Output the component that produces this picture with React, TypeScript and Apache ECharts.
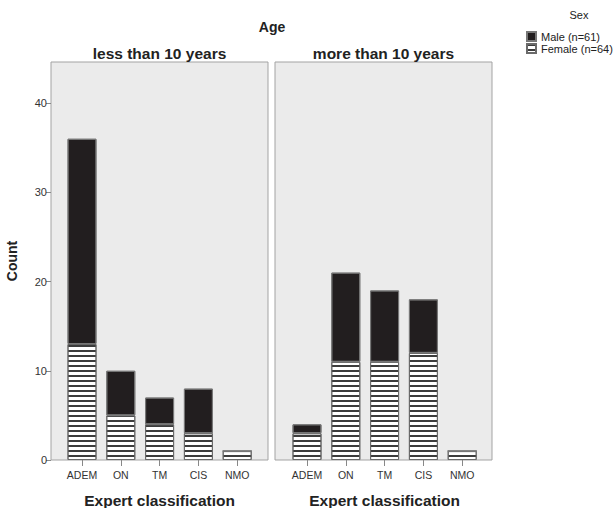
import React, { useEffect, useRef } from "react";
import * as echarts from "echarts";

const categories = ["ADEM", "ON", "TM", "CIS", "NMO"];
const panels = ["less than 10 years", "more than 10 years"];
const maleLess = [23, 5, 3, 5, 0];
const femaleLess = [13, 5, 4, 3, 1];
const maleMore = [1, 10, 8, 6, 0];
const femaleMore = [3, 11, 11, 12, 1];
const yTicks = [0, 10, 20, 30, 40];
const maleName = "Male (n=61)";
const femaleName = "Female (n=64)";

const FONT = "Liberation Sans, Arial, sans-serif";

export default function App() {
  const ref = useRef<HTMLDivElement>(null);
  useEffect(() => {
    if (!ref.current) return;
    const chart = echarts.init(ref.current, null, { renderer: "svg" });
    const yMax = 44.6;
    const panelTop = 62;
    const panelH = 398;
    const bgLefts = [51, 275];
    const panelW = 217;
    const dataLefts = [62.6, 287.6];
    const dataW = 194;

    const grids: any[] = [];
    const xAxes: any[] = [];
    const yAxes: any[] = [];
    bgLefts.forEach((l) => {
      grids.push({
        left: l, top: panelTop, width: panelW, height: panelH,
        outerBoundsMode: "none", containLabel: false,
        show: true, backgroundColor: "#ebebeb", borderColor: "#a3a3a3", borderWidth: 1,
      });
    });
    dataLefts.forEach((l) => {
      grids.push({ left: l, top: panelTop, width: dataW, height: panelH, outerBoundsMode: "none", containLabel: false });
    });
    [0, 1].forEach((i) => {
      xAxes.push({ gridIndex: i, type: "value", show: false, min: 0, max: 1 });
      yAxes.push({
        gridIndex: i, type: "value", min: 0, max: yMax,
        show: i === 0,
        name: i === 0 ? "Count" : "",
        nameLocation: "middle", nameGap: 32,
        nameTextStyle: { fontFamily: FONT, fontWeight: "bold", fontSize: 14, color: "#222" },
        axisLine: { show: false },
        axisTick: { show: true, length: 5, lineStyle: { color: "#888" }, customValues: yTicks },
        axisLabel: { customValues: yTicks, fontFamily: FONT, fontSize: 11, color: "#333", margin: 4 },
        splitLine: { show: false },
      });
    });
    [2, 3].forEach((i) => {
      xAxes.push({
        gridIndex: i, type: "category", data: categories,
        name: "Expert classification", nameLocation: "middle", nameGap: 32,
        nameTextStyle: { fontFamily: FONT, fontWeight: "bold", fontSize: 15.5, color: "#222" },
        axisLine: { show: false },
        axisTick: { show: true, alignWithLabel: true, length: 6, lineStyle: { color: "#888" } },
        axisLabel: { interval: 0, fontFamily: FONT, fontSize: 10.5, color: "#333", margin: 9 },
      });
      yAxes.push({ gridIndex: i, type: "value", min: 0, max: yMax, show: false, splitLine: { show: false } });
    });

    const femaleStyle = {
      color: "#ffffff",
      borderColor: "#6a6a6a",
      borderWidth: 1,
      decal: {
        symbol: "rect",
        symbolSize: 1,
        color: "#3c3c3c",
        dashArrayX: [1, 0],
        dashArrayY: [2, 3],
        rotation: 0,
      },
    };
    const maleStyle = {
      color: "#221e1f",
      borderColor: "#777777",
      borderWidth: 1,
      decal: {
        symbol: "rect",
        symbolSize: 1,
        color: "rgba(0,0,0,0)",
        dashArrayX: [1, 0],
        dashArrayY: [1, 0],
      },
    };

    const mk = (name: string, data: number[], axis: number, style: any) => ({
      name, type: "bar", data, xAxisIndex: axis, yAxisIndex: axis,
      stack: "s" + axis, barWidth: 29, itemStyle: style,
      emphasis: { disabled: true },
    });

    const series = [
      mk(femaleName, femaleLess, 2, femaleStyle),
      mk(maleName, maleLess, 2, maleStyle),
      mk(femaleName, femaleMore, 3, femaleStyle),
      mk(maleName, maleMore, 3, maleStyle),
    ];

    chart.setOption({
      animation: false,
      aria: { enabled: true, label: { enabled: false }, decal: { show: true } },
      grid: grids,
      xAxis: xAxes,
      yAxis: yAxes,
      series,
      legend: {
        data: [
          { name: maleName, icon: "rect" },
          { name: femaleName, icon: "rect" },
        ],
        orient: "vertical",
        left: 526, top: 31,
        itemWidth: 9, itemHeight: 9, itemGap: 1,
        padding: 0,
        selectedMode: false,
        textStyle: { fontFamily: FONT, fontSize: 11, color: "#222" },
      },
      graphic: [
        { type: "text", style: { text: "Age", x: 272, y: 27, align: "center", verticalAlign: "middle", font: `bold 14px ${FONT}`, fill: "#222" } },
        { type: "text", style: { text: "Sex", x: 579, y: 15, align: "center", verticalAlign: "middle", font: `11px ${FONT}`, fill: "#222" } },
        { type: "text", style: { text: panels[0], x: 51 + panelW / 2, y: 53, align: "center", verticalAlign: "middle", font: `bold 15.5px ${FONT}`, fill: "#222" } },
        { type: "text", style: { text: panels[1], x: 275 + panelW / 2, y: 53, align: "center", verticalAlign: "middle", font: `bold 15.5px ${FONT}`, fill: "#222" } },
      ],
    });
    return () => chart.dispose();
  }, []);
  return <div ref={ref} style={{ position: "fixed", left: 0, top: 0, width: 614, height: 508, background: "#fff" }} />;
}
